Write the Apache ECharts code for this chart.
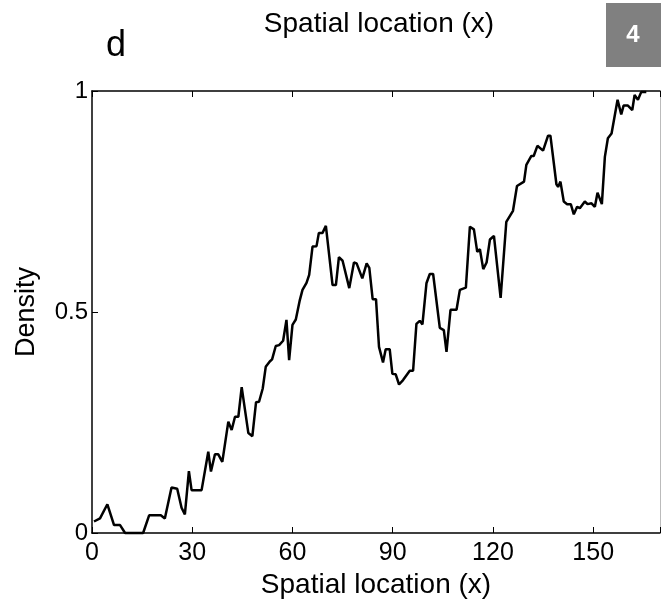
<!DOCTYPE html>
<html>
<head>
<meta charset="utf-8">
<script src="https://cdn.jsdelivr.net/npm/echarts@6/dist/echarts.min.js"></script>
<style>html,body{margin:0;padding:0;background:#fff}#c{width:661px;height:600px}</style>
</head>
<body>
<div id="c"></div>
<script>
var xs = [0.6,2.4,4.6,6.6,8.4,9.9,15.3,17.1,20.6,21.8,23.8,25.5,26.8,27.8,29.0,29.8,32.8,34.8,35.6,36.8,37.8,39.0,40.8,41.8,42.8,43.8,44.8,46.8,48.0,49.1,50.0,51.1,52.0,53.2,53.9,55.0,56.0,57.2,58.2,59.0,60.0,61.0,62.2,63.0,64.2,65.0,66.0,67.2,67.9,69.0,70.0,72.0,73.0,73.9,75.0,77.0,78.4,79.2,80.9,82.2,83.0,84.0,85.0,85.9,87.1,87.9,89.1,89.9,90.9,91.9,93.1,95.1,96.1,97.1,98.1,98.9,100.1,101.1,102.1,104.1,105.3,106.1,107.3,109.1,110.1,111.9,113.1,114.3,115.3,116.1,117.1,118.1,119.1,120.3,122.3,124.0,126.0,127.2,129.3,130.0,131.5,132.2,133.3,135.0,136.5,137.2,139.0,139.5,140.2,141.2,142.2,143.3,144.2,145.2,146.0,147.5,148.3,149.5,150.5,151.3,152.6,153.5,154.4,155.5,157.3,158.4,159.1,160.4,161.7,162.4,163.4,164.4,165.9];
var density = [0.026,0.033,0.065,0.018,0.018,0.0,0.0,0.040,0.040,0.033,0.103,0.100,0.057,0.042,0.140,0.097,0.097,0.184,0.139,0.178,0.178,0.161,0.252,0.233,0.263,0.263,0.330,0.226,0.219,0.296,0.297,0.327,0.376,0.388,0.393,0.423,0.425,0.435,0.482,0.391,0.471,0.483,0.527,0.550,0.566,0.584,0.648,0.649,0.679,0.679,0.695,0.561,0.561,0.624,0.616,0.554,0.612,0.610,0.576,0.610,0.600,0.529,0.529,0.421,0.386,0.416,0.416,0.360,0.359,0.336,0.346,0.367,0.367,0.473,0.480,0.472,0.565,0.586,0.586,0.464,0.459,0.410,0.505,0.505,0.550,0.555,0.693,0.687,0.636,0.642,0.597,0.612,0.664,0.672,0.532,0.704,0.729,0.785,0.795,0.833,0.853,0.853,0.876,0.865,0.899,0.899,0.789,0.783,0.795,0.750,0.744,0.744,0.721,0.738,0.735,0.750,0.744,0.746,0.738,0.770,0.744,0.851,0.893,0.904,0.980,0.947,0.967,0.967,0.957,0.991,0.980,0.998,0.998];
var xTicks = [0,30,60,90,120,150];
var yTicks = [0,0.5,1];
var xName = 'Spatial location (x)';
var yName = 'Density';
var topTitle = 'Spatial location (x)';
var panelLetter = 'd';
var panelNumber = '4';

var pts = xs.map(function(x,i){return [x, density[i]];});
var FONT = 'Liberation Sans, Arial, Helvetica, sans-serif';
var chart = echarts.init(document.getElementById('c'), null, {renderer:'canvas'});
chart.setOption({
  animation:false,
  backgroundColor:'#fff',
  grid:{left:92, right:1, top:91, bottom:67, containLabel:false, outerBoundsMode:'none'},
  title:{text:topTitle, left:374, top:5, textAlign:'center',
    textStyle:{fontFamily:FONT, fontSize:28, fontWeight:'normal', color:'#000'}},
  graphic:[
    {type:'text', left:106, top:28, style:{text:panelLetter, font:'36px '+FONT, fill:'#000'}},
    {type:'rect', shape:{x:606, y:3, width:55, height:64}, style:{fill:'#808080'}},
    {type:'text', x:633, y:35, style:{text:panelNumber, font:'bold 24px '+FONT, fill:'#fff', textAlign:'center', textVerticalAlign:'middle'}},
    {type:'line', shape:{x1:660.5, y1:91, x2:660.5, y2:533}, style:{stroke:'#bbb', lineWidth:1}}
  ],
  xAxis:[{
    type:'value', min:0, max:170, interval:30, position:'bottom',
    name:xName, nameLocation:'middle', nameGap:37,
    nameTextStyle:{fontFamily:FONT, fontSize:28, color:'#000'},
    axisLine:{show:true, onZero:false, lineStyle:{color:'#000', width:1.5}},
    axisTick:{show:true, inside:true, length:6, lineStyle:{color:'#000', width:1}},
    axisLabel:{fontFamily:FONT, fontSize:25, color:'#000', margin:8,
      customValues:xTicks, formatter:function(v){return String(v);}},
    splitLine:{show:false}
  },{
    type:'value', min:0, max:170, interval:30, position:'top',
    axisLine:{show:true, onZero:false, lineStyle:{color:'#000', width:1.5}},
    axisTick:{show:true, inside:true, length:6, lineStyle:{color:'#000', width:1}},
    axisLabel:{show:false}, splitLine:{show:false}
  }],
  yAxis:{
    type:'value', min:0, max:1, interval:0.5,
    name:yName, nameLocation:'middle', nameGap:52, nameRotate:90,
    nameTextStyle:{fontFamily:FONT, fontSize:27, color:'#000'},
    axisLine:{show:true, lineStyle:{color:'#000', width:1.5}},
    axisTick:{show:true, inside:true, length:6, lineStyle:{color:'#000', width:1}},
    axisLabel:{fontFamily:FONT, fontSize:24, color:'#000', margin:4,
      formatter:function(v){return yTicks.indexOf(v)>=0 ? String(v) : '';}},
    splitLine:{show:false}
  },
  series:[{
    type:'line', data:pts, xAxisIndex:0, showSymbol:false, symbol:'none',
    lineStyle:{color:'#000', width:2.5}, clip:false
  }]
});
</script>
</body>
</html>
